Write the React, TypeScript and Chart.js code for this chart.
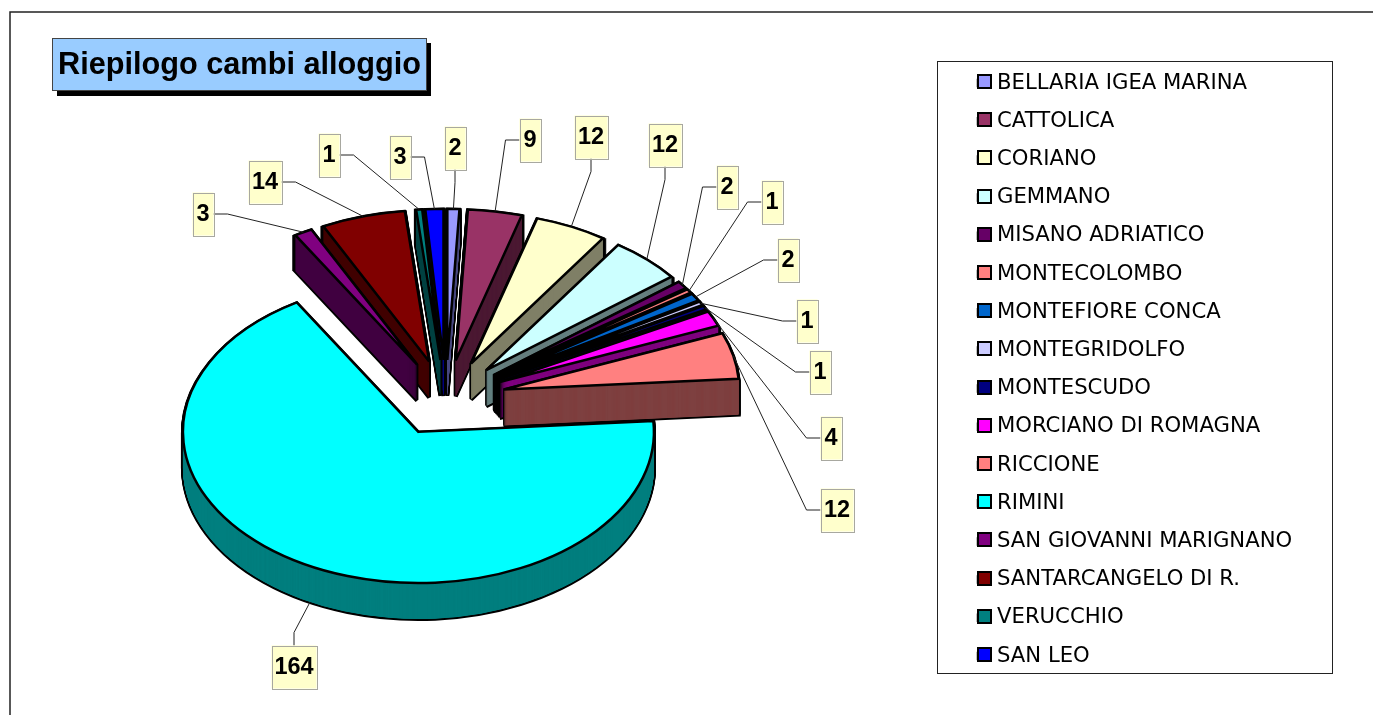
import React, { useEffect, useRef } from "react";
import { Chart, registerables } from "chart.js";

Chart.register(...registerables);

const TITLE = "Riepilogo cambi alloggio";
const CATEGORIES = [
  "BELLARIA IGEA MARINA", "CATTOLICA", "CORIANO", "GEMMANO", "MISANO ADRIATICO", "MONTECOLOMBO",
  "MONTEFIORE CONCA", "MONTEGRIDOLFO", "MONTESCUDO", "MORCIANO DI ROMAGNA", "RICCIONE", "RIMINI",
  "SAN GIOVANNI MARIGNANO", "SANTARCANGELO DI R.", "VERUCCHIO", "SAN LEO",
];
const VALUES = [2, 9, 12, 12, 2, 1, 2, 1, 1, 4, 12, 164, 3, 14, 1, 3];
const COLORS = [
  "#9999FF", "#993366", "#FFFFCC", "#CCFFFF", "#660066", "#FF8080", "#0066CC", "#CCCCFF",
  "#000080", "#FF00FF", "#FF8080", "#00FFFF", "#800080", "#800000", "#008080", "#0000FF",
];

// layout constants
const CX = 445.8, CY = 398, K = 0.642, R = 235.5, DEPTH = 36, EXPLODE = 59.4;
// label box centres and the side of the box that the leader line reaches
const LABEL_POS: [number, number, string][] = [
  [455, 148, "b"], [530, 140, "l"], [591, 137, "b"], [665, 145, "b"], [727, 187, "l"], [772, 202, "l"],
  [788, 260, "l"], [807, 321, "l"], [820, 372, "l"], [831, 438, "l"], [837, 510, "l"], [294, 667, "t"],
  [203, 214, "r"], [265, 182, "r"], [329, 155, "r"], [400, 157, "r"],
];

function wallColor(hex: string) {
  const n = parseInt(hex.slice(1), 16);
  const h = (v: number) => Math.floor(v / 2);
  return `rgb(${h((n >> 16) & 255)},${h((n >> 8) & 255)},${h(n & 255)})`;
}

function apex(arc: any) {
  const mid = (arc.startAngle + arc.endAngle) / 2;
  const d = (arc.options.offset || 0) / 4;
  return { mid, x: CX + Math.cos(mid) * d, y: CY + Math.sin(mid) * d * K };
}

function trace(ctx: CanvasRenderingContext2D, arc: any, dy: number) {
  const a = apex(arc);
  ctx.beginPath();
  ctx.moveTo(a.x, a.y + dy);
  ctx.ellipse(a.x, a.y + dy, arc.outerRadius, arc.outerRadius * K, 0, arc.startAngle, arc.endAngle);
  ctx.closePath();
}

const pie3d = {
  id: "pie3d",
  beforeDraw(chart: any) {
    const ctx = chart.ctx;
    ctx.save();
    ctx.fillStyle = "#fff";
    ctx.fillRect(0, 0, chart.width, chart.height);
    ctx.strokeStyle = "#222";
    ctx.lineWidth = 1.5;
    ctx.beginPath();
    ctx.moveTo(10, chart.height);
    ctx.lineTo(10, 12);
    ctx.lineTo(chart.width, 12);
    ctx.stroke();
    // title box
    ctx.fillStyle = "#000";
    ctx.fillRect(57, 43, 374, 53);
    ctx.fillStyle = "#99CCFF";
    ctx.fillRect(52, 38, 374, 53);
    ctx.strokeStyle = "#444";
    ctx.lineWidth = 1;
    ctx.strokeRect(52.5, 38.5, 374, 52);
    // legend frame
    ctx.strokeStyle = "#222";
    ctx.strokeRect(937.5, 61.5, 395, 612);
    ctx.restore();
  },
  afterLayout(chart: any) {
    const l = chart.legend;
    l.left = 978 - 17; l.right = 1332; l.top = 55.4; l.bottom = 715;
    const t = chart.titleBlock;
    t.left = 58; t.right = 421; t.top = 47; t.bottom = 84;
  },
  beforeDatasetDraw(chart: any) {
    const ctx = chart.ctx;
    const arcs = [...chart.getDatasetMeta(0).data];
    const order = arcs
      .map((arc: any, i: number) => ({ arc, i }))
      .sort((a: any, b: any) => Math.sin(apex(a.arc).mid) - Math.sin(apex(b.arc).mid));
    for (const { arc, i } of order) {
      ctx.save();
      ctx.lineJoin = "miter";
      ctx.miterLimit = 4;
      ctx.strokeStyle = "#000";
      ctx.lineWidth = 4;
      for (let dy = DEPTH; dy >= 1; dy -= 1) {
        trace(ctx, arc, dy);
        ctx.stroke();
      }
      ctx.fillStyle = wallColor(COLORS[i]);
      for (let dy = DEPTH; dy >= 0.5; dy -= 0.25) {
        trace(ctx, arc, dy);
        ctx.fill();
      }
      // top surface
      trace(ctx, arc, 0);
      ctx.fillStyle = arc.options.backgroundColor;
      ctx.fill();
      ctx.strokeStyle = arc.options.borderColor;
      ctx.lineWidth = arc.options.borderWidth;
      ctx.stroke();
      ctx.restore();
    }
    return false;
  },
  afterDraw(chart: any) {
    const ctx = chart.ctx;
    const arcs = chart.getDatasetMeta(0).data;
    ctx.save();
    // legend markers
    chart.legend.legendItems.forEach((item: any, i: number) => {
      const y = Math.round(75 + i * 38.2);
      ctx.fillStyle = item.fillStyle;
      ctx.strokeStyle = "#000";
      ctx.lineWidth = 2;
      ctx.fillRect(978, y, 13, 13);
      ctx.strokeRect(978, y, 13, 13);
    });
    // leader lines and value boxes
    VALUES.forEach((v, i) => {
      const arc = arcs[i];
      const [bx, by, side] = LABEL_POS[i];
      const txt = String(v);
      const w = txt.length === 1 ? 21 : txt.length === 2 ? 33 : 45;
      const h = 43;
      const a = apex(arc);
      const sx = a.x + Math.cos(a.mid) * arc.outerRadius;
      const sy = a.y + Math.sin(a.mid) * arc.outerRadius * K + (Math.sin(a.mid) > 0 ? DEPTH : 0);
      let ex = bx, ey = by, mx = bx, my = by;
      if (side === "l") { ex = bx - w / 2; mx = ex - 14; }
      if (side === "r") { ex = bx + w / 2; mx = ex + 14; }
      if (side === "b") { ey = by + h / 2; my = ey + 13; }
      if (side === "t") { ey = by - h / 2; my = ey - 13; }
      ctx.strokeStyle = "#222";
      ctx.lineWidth = 1;
      ctx.beginPath();
      ctx.moveTo(sx, sy);
      ctx.lineTo(mx, my);
      ctx.lineTo(ex, ey);
      ctx.stroke();
      ctx.fillStyle = "#FFFFCC";
      ctx.strokeStyle = "#A8A8A0";
      ctx.fillRect(bx - w / 2, by - h / 2, w, h);
      ctx.strokeRect(Math.round(bx - w / 2) + 0.5, Math.round(by - h / 2) + 0.5, w, h);
      ctx.fillStyle = "#000";
      ctx.font = "bold 23.5px 'Liberation Sans'";
      ctx.textAlign = "center";
      ctx.textBaseline = "middle";
      ctx.fillText(txt, bx, by + 1);
    });
    ctx.restore();
  },
};

export default function App() {
  const ref = useRef<HTMLCanvasElement>(null);
  useEffect(() => {
    const chart = new Chart(ref.current!, {
      type: "pie",
      data: {
        labels: CATEGORIES,
        datasets: [{
          data: VALUES,
          backgroundColor: COLORS,
          borderColor: "#000",
          borderWidth: 2.5,
          borderJoinStyle: "miter",
          offset: EXPLODE * 4,
          clip: false,
        } as any],
      },
      options: {
        responsive: false,
        animation: false,
        events: [],
        radius: R,
        plugins: {
          tooltip: { enabled: false },
          title: {
            display: true,
            text: TITLE,
            align: "start",
            color: "#000",
            font: { family: "'Liberation Sans'", size: 30.7, weight: "bold" },
            padding: 0,
          },
          legend: {
            display: true,
            position: "right",
            align: "start",
            labels: {
              boxWidth: 8.4,
              boxHeight: 6,
              padding: 17,
              color: "#000",
              font: { family: "'DejaVu Sans'", size: 21.2 },
            },
          },
        },
      } as any,
      plugins: [pie3d as any],
    });
    return () => chart.destroy();
  }, []);
  return (
    <canvas
      ref={ref}
      width={1373}
      height={715}
      style={{ position: "fixed", left: 0, top: 0, width: 1373, height: 715, display: "block" }}
    />
  );
}
